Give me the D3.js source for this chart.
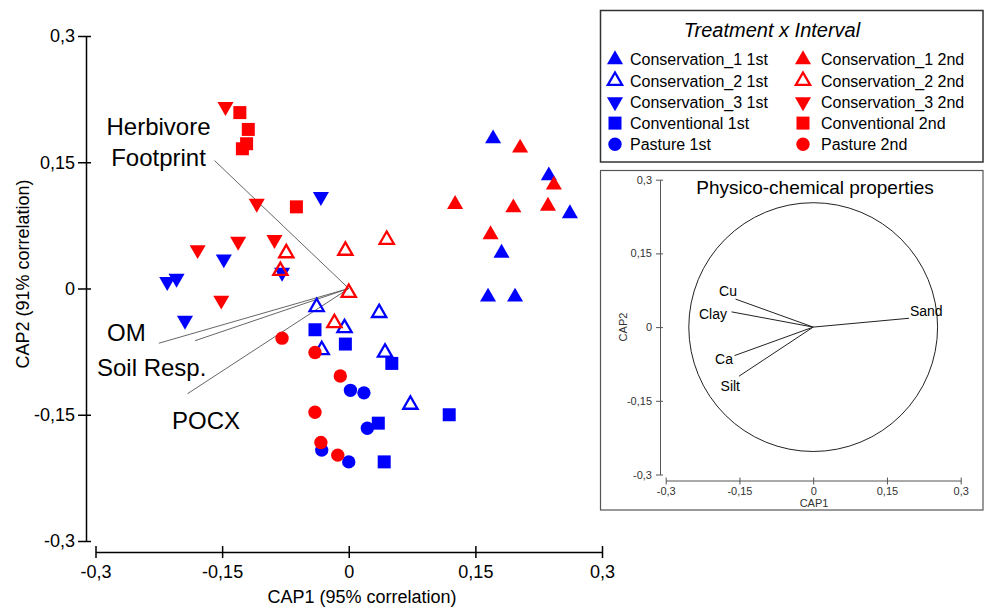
<!DOCTYPE html>
<html><head><meta charset="utf-8">
<script src="https://cdn.jsdelivr.net/npm/d3@7"></script>
<style>
html,body{margin:0;padding:0;background:#fff;}
svg{display:block;font-family:"Liberation Sans",Arial,Helvetica,sans-serif;}
</style></head>
<body><svg id="c" width="985" height="608"></svg>
<script>
// ---------- DATA ----------
const axisTicks = [-0.3, -0.15, 0, 0.15, 0.3];

const cons1_1st = [[0.171,0.178],[0.237,0.134],[0.262,0.089],[0.181,0.042],[0.165,-0.010],[0.197,-0.010]];
const cons2_1st = [[-0.038,-0.022],[0.036,-0.029],[-0.005,-0.047],[-0.032,-0.073],[0.043,-0.076],[0.073,-0.138]];
const cons3_1st = [[-0.033,0.109],[-0.079,0.019],[-0.148,0.035],[-0.215,0.008],[-0.204,0.012],[-0.194,-0.038]];
const conv_1st  = [[-0.040,-0.049],[-0.004,-0.066],[0.051,-0.089],[0.119,-0.150],[0.035,-0.160],[0.042,-0.206]];
const past_1st  = [[0.002,-0.121],[0.018,-0.124],[0.022,-0.166],[-0.032,-0.192],[0.000,-0.206]];

const cons1_2nd = [[0.203,0.167],[0.243,0.123],[0.126,0.100],[0.195,0.096],[0.236,0.098],[0.168,0.064]];
const cons2_2nd = [[-0.074,0.042],[-0.081,0.021],[0.045,0.058],[-0.004,0.045],[0.000,-0.005],[-0.017,-0.041]];
const cons3_2nd = [[-0.146,0.216],[-0.109,0.101],[-0.179,0.046],[-0.131,0.056],[-0.088,0.058],[-0.151,-0.014]];
const conv_2nd  = [[-0.129,0.209],[-0.119,0.189],[-0.121,0.172],[-0.126,0.166],[-0.062,0.097]];
const past_2nd  = [[-0.079,-0.059],[-0.040,-0.076],[-0.010,-0.104],[-0.040,-0.147],[-0.033,-0.183],[-0.013,-0.198]];

const groupNames = ["Conservation_1 1st","Conservation_2 1st","Conservation_3 1st","Conventional 1st","Pasture 1st",
                    "Conservation_1 2nd","Conservation_2 2nd","Conservation_3 2nd","Conventional 2nd","Pasture 2nd"];
const groupData = [cons1_1st,cons2_1st,cons3_1st,conv_1st,past_1st,cons1_2nd,cons2_2nd,cons3_2nd,conv_2nd,past_2nd];
const groupShape = ["up","open","down","square","circle","up","open","down","square","circle"];
const groupColor = ["#0000ff","#0000ff","#0000ff","#0000ff","#0000ff","#ff0000","#ff0000","#ff0000","#ff0000","#ff0000"];

// main biplot vectors
const vecNames = ["Herbivore Footprint","OM","Soil Resp.","POCX"];
const vecEnds  = [[-0.159,0.152],[-0.225,-0.065],[-0.182,-0.062],[-0.191,-0.125]];

// inset: physico-chemical vectors
const inNames = ["Cu","Clay","Ca","Silt","Sand"];
const inEnds  = [[-0.158,0.057],[-0.166,0.031],[-0.160,-0.058],[-0.151,-0.100],[0.195,0.018]];
const inCircleR = 0.253;

// ---------- DRAW ----------
const svg = d3.select("#c");
const fmt = d => d === 0 ? "0" : String(d).replace(".", ",");

const x = d3.scaleLinear().domain([-0.3,0.3]).range([95.5,602]);
const y = d3.scaleLinear().domain([-0.3,0.3]).range([541,36]);

// axes
const gy = svg.append("g").attr("transform","translate(86,0)")
  .call(d3.axisLeft(y).tickValues(axisTicks).tickFormat(fmt).tickSizeOuter(0).tickSizeInner(8));
gy.select(".domain").attr("stroke","#000").attr("stroke-width",1.5);
gy.selectAll(".tick line").attr("x1",5).attr("x2",-8).attr("stroke","#000").attr("stroke-width",1.5);
gy.selectAll(".tick text").attr("x",-11).attr("font-size",18).attr("fill","#000").attr("font-family",null);

const gx = svg.append("g").attr("transform","translate(0,552)")
  .call(d3.axisBottom(x).tickValues(axisTicks).tickFormat(fmt).tickSizeOuter(0).tickSizeInner(6));
gx.select(".domain").attr("stroke","#000").attr("stroke-width",1.5);
gx.selectAll(".tick line").attr("y1",-6).attr("y2",6).attr("stroke","#000").attr("stroke-width",1.5);
gx.selectAll(".tick text").attr("y",26).attr("dy",null).attr("font-size",18).attr("fill","#000").attr("font-family",null);

svg.append("text").attr("x",362).attr("y",603).attr("text-anchor","middle").attr("font-size",18)
  .text("CAP1 (95% correlation)");
svg.append("text").attr("transform","translate(29,274) rotate(-90)").attr("text-anchor","middle").attr("font-size",18)
  .text("CAP2 (91% correlation)");

// vectors
svg.append("g").selectAll("line").data(vecEnds).join("line")
  .attr("x1",x(0)).attr("y1",y(0)).attr("x2",d=>x(d[0])).attr("y2",d=>y(d[1]))
  .attr("stroke","#555").attr("stroke-width",0.9);

const vl = svg.append("g").attr("font-size",24).attr("fill","#000");
vl.append("text").attr("x",158.5).attr("y",135).attr("text-anchor","middle").text("Herbivore");
vl.append("text").attr("x",158.5).attr("y",166).attr("text-anchor","middle").text("Footprint");
vl.append("text").attr("x",107).attr("y",341).text(vecNames[1]);
vl.append("text").attr("x",97).attr("y",376).text(vecNames[2]);
vl.append("text").attr("x",172).attr("y",429).text(vecNames[3]);

// symbols
function symPath(shape){
  if (shape==="square") return d3.symbol().type(d3.symbolSquare).size(169)();
  if (shape==="circle") return d3.symbol().type(d3.symbolCircle).size(140)();
  if (shape==="open") return d3.symbol().type(d3.symbolTriangle).size(88)();
  return d3.symbol().type(d3.symbolTriangle).size(112)();
}
function styleSym(sel, i){
  const sh = groupShape[i], col = groupColor[i];
  sel.attr("d", symPath(sh))
    .attr("fill", sh==="open" ? "none" : col)
    .attr("stroke", sh==="open" ? col : "none")
    .attr("stroke-width", sh==="open" ? 2.3 : 0);
}
const pts = svg.append("g");
groupData.forEach((arr,i)=>{
  pts.append("g").selectAll("path").data(arr).join("path")
    .call(s=>styleSym(s,i))
    .attr("transform", d=>`translate(${x(d[0])},${y(d[1])})${groupShape[i]==="down"?" rotate(180)":""}`);
});

// legend
svg.append("rect").attr("x",600.5).attr("y",10.5).attr("width",382.5).attr("height",151.5)
  .attr("fill","#fff").attr("stroke","#333").attr("stroke-width",1.5);
svg.append("text").attr("x",772).attr("y",37).attr("text-anchor","middle").attr("font-size",20)
  .attr("font-style","italic").text("Treatment x Interval");
const lg = svg.append("g");
groupNames.forEach((name,i)=>{
  const col = Math.floor(i/5), row = i%5;
  const cx = col===0 ? 615 : 803, cy = 59.5 + row*21.2;
  lg.append("path").call(s=>styleSym(s,i))
    .attr("transform",`translate(${cx},${cy})${groupShape[i]==="down"?" rotate(180)":""}`);
  lg.append("text").attr("x", col===0 ? 630 : 821).attr("y", cy+5.8).attr("font-size",16).text(name);
});

// inset
svg.append("rect").attr("x",600.5).attr("y",170.5).attr("width",382.5).attr("height",339.5)
  .attr("fill","#fff").attr("stroke","#555").attr("stroke-width",1.2);
const xi = d3.scaleLinear().domain([-0.3,0.3]).range([665.7,960.7]);
const yi = d3.scaleLinear().domain([-0.3,0.3]).range([474.5,179.7]);

const giy = svg.append("g").attr("transform","translate(660,0)")
  .call(d3.axisLeft(yi).tickValues(axisTicks).tickFormat(fmt).tickSizeOuter(0).tickSizeInner(4));
giy.select(".domain").attr("stroke","#555");
giy.selectAll(".tick line").attr("x1",3).attr("x2",-4).attr("stroke","#555");
giy.selectAll(".tick text").attr("x",-8).attr("font-size",11).attr("fill","#333").attr("font-family",null);

const gix = svg.append("g").attr("transform","translate(0,480.5)")
  .call(d3.axisBottom(xi).tickValues(axisTicks).tickFormat(fmt).tickSizeOuter(0).tickSizeInner(4));
gix.select(".domain").attr("stroke","#555");
gix.selectAll(".tick line").attr("y1",-3).attr("y2",4).attr("stroke","#555");
gix.selectAll(".tick text").attr("y",7).attr("font-size",11).attr("fill","#333").attr("font-family",null);

svg.append("text").attr("x",814).attr("y",507).attr("text-anchor","middle").attr("font-size",11).attr("fill","#333").text("CAP1");
svg.append("text").attr("transform","translate(627,327) rotate(-90)").attr("text-anchor","middle").attr("font-size",11).attr("fill","#333").text("CAP2");
svg.append("text").attr("x",815).attr("y",194).attr("text-anchor","middle").attr("font-size",19).text("Physico-chemical properties");

svg.append("circle").attr("cx",xi(0)).attr("cy",yi(0)).attr("r",xi(inCircleR)-xi(0))
  .attr("fill","none").attr("stroke","#222").attr("stroke-width",1);
svg.append("g").selectAll("line").data(inEnds).join("line")
  .attr("x1",xi(0)).attr("y1",yi(0)).attr("x2",d=>xi(d[0])).attr("y2",d=>yi(d[1]))
  .attr("stroke","#222").attr("stroke-width",1);
const inLab = [[728,290.7],[713,314],[724,358.7],[730.3,386.3],[926.3,311.3]];
svg.append("g").selectAll("text").data(inNames).join("text")
  .attr("x",(d,i)=>inLab[i][0]).attr("y",(d,i)=>inLab[i][1]+5)
  .attr("text-anchor","middle").attr("font-size",14).text(d=>d);
</script></body></html>
